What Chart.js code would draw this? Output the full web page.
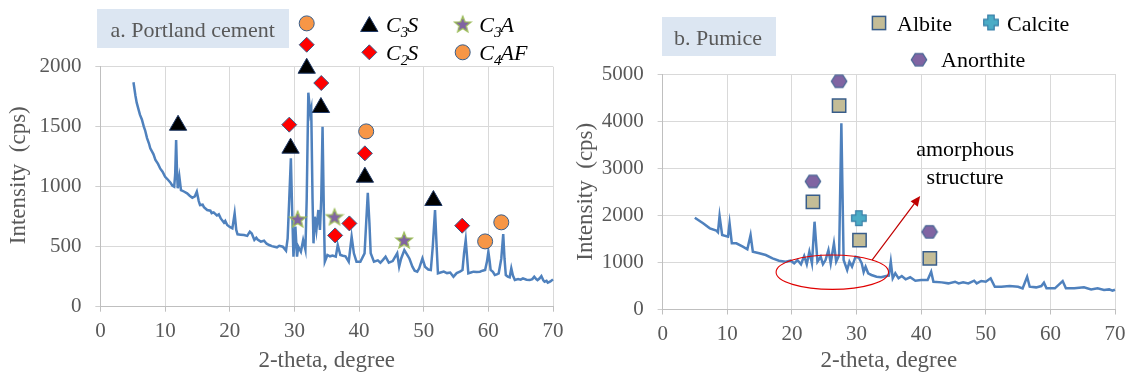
<!DOCTYPE html>
<html><head><meta charset="utf-8">
<script src="https://cdn.jsdelivr.net/npm/chart.js@4.4.1/dist/chart.umd.min.js"></script>
<style>
html,body{margin:0;padding:0;background:#fff;overflow:hidden}
#wrap{position:relative;width:1134px;height:379px}
canvas{position:absolute;top:0}
#ca{left:0}#cb{left:567px}
</style></head><body>
<div id="wrap"><canvas id="ca" width="567" height="379"></canvas><canvas id="cb" width="567" height="379"></canvas></div>
<script>
// ---------- DATA ----------
const xTicks = [0,10,20,30,40,50,60,70];
const yTicksA = [0,500,1000,1500,2000];
const yTicksB = [0,1000,2000,3000,4000,5000];

// a. Portland cement XRD pattern
const cementTheta = [5.1,5.4,5.6,5.9,6.1,6.4,6.7,6.9,7.2,7.5,7.7,8.0,8.2,8.5,8.9,9.25,9.6,10.0,10.4,10.8,11.1,11.4,11.55,11.7,11.85,11.95,12.2,12.45,12.9,13.4,13.8,14.2,14.6,14.9,15.2,15.4,15.8,16.0,16.5,17.0,17.2,17.5,18.0,18.3,18.6,19.1,19.3,19.6,20.0,20.4,20.75,21.0,21.2,21.7,22.2,22.7,23.1,23.4,23.8,24.1,24.3,24.8,25.3,25.7,26.1,26.5,26.9,27.3,27.65,28.2,28.7,28.95,29.2,29.45,29.65,29.85,30.15,30.4,30.6,31.0,31.35,31.7,31.9,32.15,32.45,32.6,32.8,32.95,33.15,33.4,33.7,33.95,34.15,34.35,34.55,34.7,35.1,35.5,35.9,36.4,36.7,37.1,37.5,37.9,38.4,38.85,39.2,39.6,40.2,40.85,41.1,41.35,41.6,41.8,42.3,42.9,43.3,43.7,44.1,44.6,45.2,45.9,46.2,46.5,47.0,47.45,47.8,48.25,48.6,49.0,49.3,49.8,50.2,50.7,51.1,51.4,51.75,52.0,52.2,52.6,53.1,53.6,54.1,54.6,55.1,55.6,56.0,56.25,56.5,56.7,56.9,57.3,57.7,58.2,58.7,59.1,59.5,59.8,60.0,60.2,60.35,60.7,61.0,61.3,61.6,62.0,62.3,62.5,62.7,63.0,63.3,63.55,63.8,64.1,64.6,65.0,65.35,65.9,66.4,66.8,67.1,67.4,67.6,67.9,68.2,68.5,68.7,69.0,69.2,69.6,70.0];
const cementIntensity = [1870,1760,1700,1640,1600,1560,1500,1470,1405,1360,1320,1290,1270,1222,1190,1150,1125,1083,1060,1036,1010,1000,1100,1389,1100,987,1083,972,960,945,925,908,920,958,880,847,850,830,806,800,780,786,760,770,736,700,715,681,665,653,778,640,603,600,597,590,625,610,556,575,560,542,550,525,514,505,500,495,508,500,467,570,900,1237,800,417,667,417,500,458,556,475,900,1783,1612,1650,900,528,750,639,806,639,900,1500,800,375,431,420,427,417,514,431,425,420,375,583,445,375,375,445,700,950,700,445,375,386,367,390,417,367,380,445,333,400,472,431,400,333,300,292,320,403,333,310,306,500,806,500,278,285,292,280,285,250,280,292,306,450,556,420,278,285,292,290,292,300,306,380,458,380,306,290,264,270,278,400,606,400,264,250,245,320,260,222,230,225,236,225,222,230,250,230,222,235,255,220,208,215,200,210,228];

// phase markers, panel a
const c3sTheta = [12.0,29.4,31.9,34.1,40.9,51.5];
const c3sIntensity = [1512,1321,1987,1660,1079,885];
const c2sTheta = [29.2,31.9,34.15,36.3,38.5,40.9,55.95];
const c2sIntensity = [1517,2183,1864,594,694,1278,675];
const c3aTheta = [30.5,36.2,46.96];
const c3aIntensity = [731,750,556];
const c4afTheta = [31.9,41.1,59.5,62.0];
const c4afIntensity = [2361,1461,544,703];

// b. Pumice XRD pattern
const pumiceTheta = [4.97,6.25,7.3,8.3,8.55,8.8,9.2,10.1,10.35,10.7,11.4,12.4,13.1,13.6,13.95,14.95,15.95,17.0,18.0,19.0,19.8,20.35,20.85,21.4,21.9,22.3,22.7,23.1,23.5,23.95,24.45,24.8,25.2,25.65,26.0,26.5,26.85,27.3,27.65,28.0,28.55,28.9,29.3,29.85,30.36,30.8,31.1,31.4,31.8,32.3,33.1,33.8,34.6,35.0,35.3,35.6,36.0,36.5,37.0,37.6,38.3,39.1,40.0,41.0,41.55,41.9,43.2,44.2,45.25,45.8,46.5,47.3,48.2,48.6,49.3,50.0,50.75,51.4,52.4,53.7,55.0,55.7,56.4,56.8,57.8,58.6,59.0,59.4,60.7,61.9,62.4,63.7,65.2,66.3,67.3,68.3,69.1,69.6,70.0];
const pumiceIntensity = [1949,1830,1724,1673,1640,1985,1582,1546,1830,1406,1406,1333,1278,1582,1227,1193,1157,1087,1036,1015,1036,981,1050,960,1136,960,1227,981,1864,1015,1121,960,1050,1263,981,1406,1015,1150,3953,1050,839,1015,910,1121,1100,981,796,909,769,733,696,684,711,720,1015,662,769,662,711,641,684,612,626,626,803,590,576,555,590,555,576,555,612,555,605,590,662,484,484,498,484,449,696,484,470,498,569,449,449,605,449,449,470,427,449,413,427,399,420];

// phase markers, panel b
const albiteTheta = [23.25,27.3,30.46,41.34];
const albiteIntensity = [2287,4327,1473,1084];
const calciteTheta = [30.36];
const calciteIntensity = [1940];
const anorthiteTheta = [23.25,27.3,41.3];
const anorthiteIntensity = [2720,4845,1649];

// annotation (panel b), in data units
const ellipseCenter = [26.25, 792];
const ellipseRadii = [8.7, 365];
const arrowFrom = [32.4, 1050];
const arrowTo = [39.85, 2410];
const annotationLines = ['amorphous','structure'];
const annotationAnchor = [46.8, 3259, 2665];

// ---------- HELPERS ----------
const SERIF = '"Liberation Serif", "Times New Roman", serif';
const GREY = '#595959';
const pts = (xs, ys) => xs.map((x, i) => ({x, y: ys[i]}));

function makeStar(){
  const c=document.createElement('canvas'); c.width=20; c.height=20;
  const g=c.getContext('2d'); g.beginPath();
  for(let i=0;i<10;i++){const r=i%2?3.7:8.6; const a=-Math.PI/2+i*Math.PI/5; g.lineTo(10+r*Math.cos(a),10.8+r*Math.sin(a));}
  g.closePath(); g.fillStyle='#8064a2'; g.fill(); g.strokeStyle='#9bbb59'; g.lineWidth=1.3; g.stroke(); return c;
}
function makeHex(){
  const c=document.createElement('canvas'); c.width=18; c.height=16;
  const g=c.getContext('2d'); g.beginPath();
  [[1.3,8],[5.2,1.8],[12.8,1.8],[16.7,8],[12.8,14.2],[5.2,14.2]].forEach(p=>g.lineTo(p[0],p[1]));
  g.closePath(); g.fillStyle='#8064a2'; g.fill(); g.strokeStyle='#4a6896'; g.lineWidth=1.3; g.stroke(); return c;
}
function makeCross(){
  const c=document.createElement('canvas'); c.width=18; c.height=18;
  const g=c.getContext('2d'); const a=3.2, b=7.3, m=9; g.beginPath();
  [[-a,-b],[a,-b],[a,-a],[b,-a],[b,a],[a,a],[a,b],[-a,b],[-a,a],[-b,a],[-b,-a],[-a,-a]].forEach(p=>g.lineTo(m+p[0],m+p[1]));
  g.closePath(); g.fillStyle='#4bacc6'; g.fill(); g.strokeStyle='#3a7fa8'; g.lineWidth=1.2; g.stroke(); return c;
}
const starImg = makeStar(), hexImg = makeHex(), crossImg = makeCross();

function shape(ctx, kind, x, y){
  ctx.save(); ctx.lineWidth = 1;
  if (kind === 'triangle'){
    const r=10; ctx.beginPath();
    for(let i=0;i<3;i++){const a=-Math.PI/2+i*2*Math.PI/3; ctx.lineTo(x+r*Math.cos(a), y+2.5+r*Math.sin(a));}
    ctx.closePath(); ctx.fillStyle='#000'; ctx.fill(); ctx.strokeStyle='#1f3864'; ctx.stroke();
  } else if (kind === 'diamond'){
    const r=7.5; ctx.beginPath(); ctx.moveTo(x,y-r); ctx.lineTo(x+r,y); ctx.lineTo(x,y+r); ctx.lineTo(x-r,y); ctx.closePath();
    ctx.fillStyle='#ff0000'; ctx.fill(); ctx.strokeStyle='#385d8a'; ctx.stroke();
  } else if (kind === 'circle'){
    ctx.beginPath(); ctx.arc(x,y,7.5,0,Math.PI*2); ctx.fillStyle='#f79646'; ctx.fill(); ctx.strokeStyle='#385d8a'; ctx.stroke();
  } else if (kind === 'square'){
    ctx.fillStyle='#c4bd97'; ctx.fillRect(x-6.6,y-6.6,13.2,13.2); ctx.strokeStyle='#385d8a'; ctx.lineWidth=1.5; ctx.strokeRect(x-6.6,y-6.6,13.2,13.2);
  } else {
    const img = kind==='star'?starImg:kind==='hex'?hexImg:crossImg;
    ctx.drawImage(img, x-img.width/2, y-img.height/2);
  }
  ctx.restore();
}
function runs(ctx, x, y, parts){
  ctx.save(); ctx.fillStyle='#000'; ctx.textBaseline='alphabetic'; ctx.textAlign='left';
  parts.forEach(p=>{
    const sub = p[1]==='sub';
    ctx.font = (sub?'italic 15px ':'italic 22px ') + SERIF;
    ctx.fillText(p[0], x, y + (sub?5:0));
    x += ctx.measureText(p[0]).width + (sub?-1:0);
  });
  ctx.restore();
}
function titleBox(ctx, x, y, w, h, text, tx, ty){
  ctx.save(); ctx.fillStyle='#dce6f2'; ctx.fillRect(x,y,w,h);
  ctx.fillStyle=GREY; ctx.font='22px '+SERIF; ctx.textBaseline='alphabetic'; ctx.fillText(text, tx, ty); ctx.restore();
}

// markers that sit above the plot area (e.g. labels over the tallest peaks) are
// skipped by Chart.js; redraw those point elements with an unbounded area
const outsidePoints = { id:'outsidePoints', afterDatasetsDraw(chart){
  const area = chart.chartArea, big = {left:-1e4, top:-1e4, right:1e4, bottom:1e4};
  chart.data.datasets.forEach((ds, i) => {
    if (ds.type !== 'scatter') return;
    chart.getDatasetMeta(i).data.forEach(el => {
      const r = el.options.radius || 0;
      if (el.y < area.top - r/2 || el.y > area.bottom + r/2) el.draw(chart.ctx, big);
    });
  });
}};

const decorA = { id:'decorA', afterDraw(chart){
  const ctx = chart.ctx;
  titleBox(ctx, 97, 9, 192, 39, 'a. Portland cement', 110.5, 37);
  shape(ctx,'triangle',369.3,24); runs(ctx,386,31.5,[['C'],['3','sub'],['S']]);
  shape(ctx,'diamond',369.3,52.3); runs(ctx,386,60,[['C'],['2','sub'],['S']]);
  shape(ctx,'star',462.7,24); runs(ctx,479.3,31.5,[['C'],['3','sub'],['A']]);
  shape(ctx,'circle',462.7,52.3); runs(ctx,479.3,60,[['C'],['4','sub'],['AF']]);
}};
const decorB = { id:'decorB', afterDraw(chart){
  const ctx = chart.ctx, xs = chart.scales.x, ys = chart.scales.y;
  titleBox(ctx, 95, 17, 114, 39, 'b. Pumice', 107, 44.5);
  ctx.save(); ctx.font='22px '+SERIF; ctx.fillStyle='#000'; ctx.textBaseline='alphabetic';
  shape(ctx,'square',312,23); ctx.fillText('Albite',330,30.5);
  shape(ctx,'cross',424,22.5); ctx.fillText('Calcite',440,30.5);
  shape(ctx,'hex',352,59.7); ctx.fillText('Anorthite',374,66.5);
  // ellipse
  const cx = xs.getPixelForValue(ellipseCenter[0]), cy = ys.getPixelForValue(ellipseCenter[1]);
  const rx = xs.getPixelForValue(ellipseCenter[0]+ellipseRadii[0]) - cx;
  const ry = cy - ys.getPixelForValue(ellipseCenter[1]+ellipseRadii[1]);
  ctx.beginPath(); ctx.ellipse(cx, cy, rx, ry, 0, 0, Math.PI*2); ctx.strokeStyle='#e00000'; ctx.lineWidth=1.1; ctx.stroke();
  // arrow
  const x1=xs.getPixelForValue(arrowFrom[0]), y1=ys.getPixelForValue(arrowFrom[1]);
  const x2=xs.getPixelForValue(arrowTo[0]), y2=ys.getPixelForValue(arrowTo[1]);
  const ang=Math.atan2(y2-y1,x2-x1), L=10, W=4.5;
  const bx=x2-L*Math.cos(ang), by=y2-L*Math.sin(ang);
  ctx.beginPath(); ctx.moveTo(x1,y1); ctx.lineTo(bx,by); ctx.strokeStyle='#c00000'; ctx.lineWidth=1.2; ctx.stroke();
  ctx.beginPath(); ctx.moveTo(x2,y2); ctx.lineTo(bx+W*Math.sin(ang),by-W*Math.cos(ang)); ctx.lineTo(bx-W*Math.sin(ang),by+W*Math.cos(ang)); ctx.closePath();
  ctx.fillStyle='#c00000'; ctx.fill();
  // text
  ctx.textAlign='center'; ctx.fillStyle='#000';
  const tx = xs.getPixelForValue(annotationAnchor[0]);
  ctx.fillText(annotationLines[0], tx, ys.getPixelForValue(annotationAnchor[1]));
  ctx.fillText(annotationLines[1], tx, ys.getPixelForValue(annotationAnchor[2]));
  ctx.restore();
}};

function markerSet(xs, ys, style, fill, border, radius, bw){
  return {type:'scatter', data: pts(xs, ys), pointStyle: style, backgroundColor: fill, borderColor: border,
          pointRadius: radius, pointBorderWidth: bw, clip: false, order: 1};
}
function lineSet(xs, ys){
  return {type:'line', data: pts(xs, ys), borderColor:'#4f81bd', borderWidth:2.5, pointRadius:0, tension:0, clip:false, order: 5};
}
function options(yMax, yAxisW, xAxisH, padRight, padTop, yTickValues, yTitle){
  const tickFont = {family: SERIF, size: 21};
  const titleFont = {family: SERIF, size: 23};
  return {
    responsive:false, animation:false, events:[],
    layout:{padding:{left:0, right:padRight, top:padTop, bottom:0}},
    plugins:{legend:{display:false}, tooltip:{enabled:false}},
    scales:{
      x:{type:'linear', min:0, max:70,
         afterBuildTicks(s){ s.ticks = xTicks.map(v=>({value:v})); },
         ticks:{color:GREY, font:tickFont, padding:7, maxRotation:0, callback:v=>String(v)},
         grid:{color:'#d9d9d9', lineWidth:1, tickLength:5, tickColor:'#bfbfbf'},
         border:{color:'#bfbfbf'},
         title:{display:true, text:'2-theta, degree', color:GREY, font:titleFont, padding:{top:0,bottom:4}},
         afterFit(s){ s.height = xAxisH; s.paddingLeft = 0; s.paddingRight = 0; }},
      y:{type:'linear', min:0, max:yMax,
         afterBuildTicks(s){ s.ticks = yTickValues.map(v=>({value:v})); },
         ticks:{color:GREY, font:tickFont, padding:14, callback:v=>String(v)},
         grid:{color:'#d9d9d9', lineWidth:1, tickLength:5, tickColor:'#bfbfbf', borderDash:[13,3], dash:[13,3], tickBorderDash:[1,0]},
         border:{color:'#bfbfbf'},
         title:{display:true, text:yTitle, color:GREY, font:titleFont, padding:{top:5,bottom:0}},
         afterFit(s){ s.width = yAxisW; s.paddingTop = 0; s.paddingBottom = 0; }}
    }
  };
}

new Chart(document.getElementById('ca'), {
  type:'scatter',
  data:{datasets:[
    lineSet(cementTheta, cementIntensity),
    markerSet(c3sTheta, c3sIntensity, 'triangle', '#000000', '#1f3864', 10, 1),
    markerSet(c2sTheta, c2sIntensity, 'rectRot', '#ff0000', '#385d8a', 7.5, 1),
    markerSet(c3aTheta, c3aIntensity, starImg, '#8064a2', '#9bbb59', 9, 1),
    markerSet(c4afTheta, c4afIntensity, 'circle', '#f79646', '#385d8a', 7.5, 1)
  ]},
  options: options(2000, 100.5, 72.3, 14, 66.7, yTicksA, '    Intensity  (cps)'),
  plugins:[outsidePoints, decorA]
});

new Chart(document.getElementById('cb'), {
  type:'scatter',
  data:{datasets:[
    lineSet(pumiceTheta, pumiceIntensity),
    markerSet(albiteTheta, albiteIntensity, 'rect', '#c4bd97', '#385d8a', 9.4, 1.5),
    markerSet(calciteTheta, calciteIntensity, crossImg, '#4bacc6', '#3a7fa8', 9, 1),
    markerSet(anorthiteTheta, anorthiteIntensity, hexImg, '#8064a2', '#4a6896', 9, 1)
  ]},
  options: options(5000, 95.7, 69.5, 19, 74, yTicksB, 'Intensity  (cps)'),
  plugins:[outsidePoints, decorB]
});
</script>
</body></html>
